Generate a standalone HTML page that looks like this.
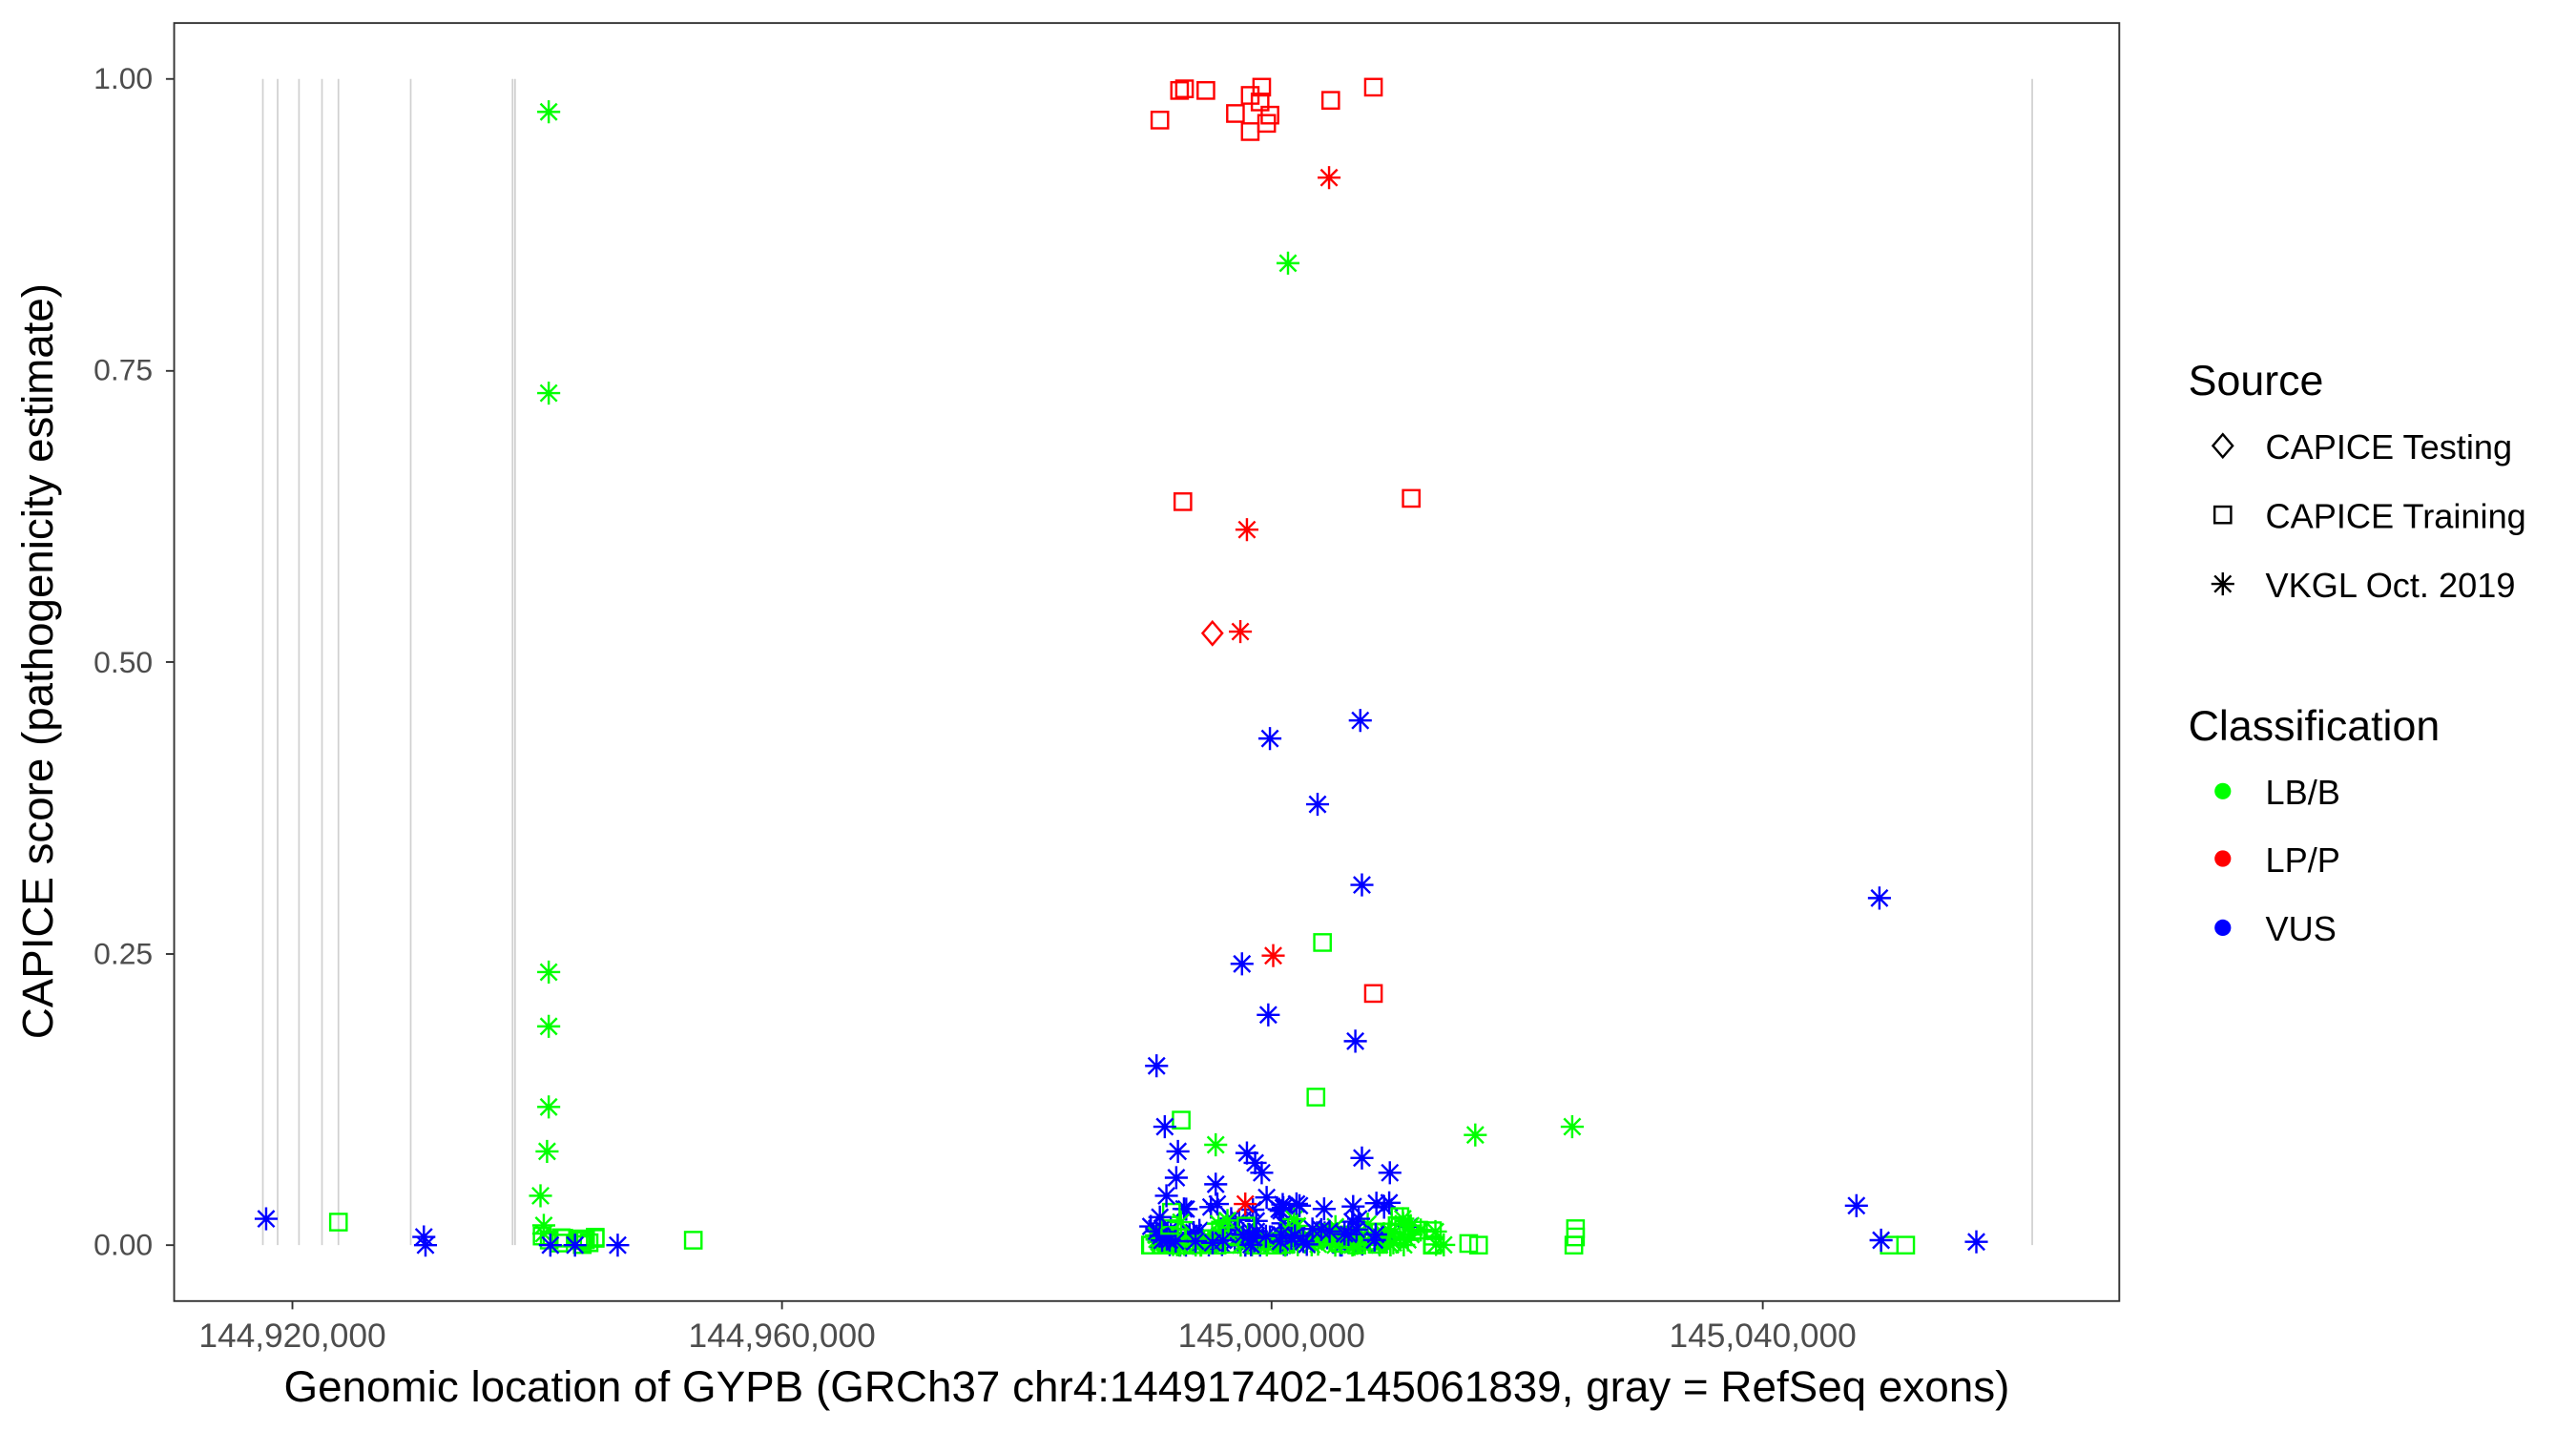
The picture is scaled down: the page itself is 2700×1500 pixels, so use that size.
<!DOCTYPE html>
<html><head><meta charset="utf-8"><style>
html,body{margin:0;padding:0;background:#fff}
svg{display:block}
text{font-family:"Liberation Sans",Arial,sans-serif}
</style></head><body>
<svg id="s" width="2700" height="1500" viewBox="0 0 1568 870" preserveAspectRatio="none" xmlns="http://www.w3.org/2000/svg">
<rect x="0" y="0" width="1568" height="870" fill="#fff"/>
<g stroke="#d0d0d0" stroke-width="1">
<line x1="160" y1="48" x2="160" y2="757"/><line x1="169" y1="48" x2="169" y2="757"/><line x1="182" y1="48" x2="182" y2="757"/><line x1="196" y1="48" x2="196" y2="757"/><line x1="206" y1="48" x2="206" y2="757"/><line x1="250" y1="48" x2="250" y2="757"/><line x1="312" y1="48" x2="312" y2="757"/><line x1="313.5" y1="48" x2="313.5" y2="757"/><line x1="1237" y1="48" x2="1237" y2="757"/>
</g>
<g id="pts" fill="none" stroke-width="1.4"></g>
<rect x="106" y="14" width="1184" height="777" fill="none" stroke="#333" stroke-width="1.1"/>
<g stroke="#333" stroke-width="1.1">
<line x1="101" y1="48" x2="106" y2="48"/><line x1="101" y1="225.5" x2="106" y2="225.5"/><line x1="101" y1="402.5" x2="106" y2="402.5"/><line x1="101" y1="580" x2="106" y2="580"/><line x1="101" y1="757" x2="106" y2="757"/>
<line x1="178" y1="791" x2="178" y2="796"/><line x1="476" y1="791" x2="476" y2="796"/><line x1="774" y1="791" x2="774" y2="796"/><line x1="1073" y1="791" x2="1073" y2="796"/>
</g>
<g font-size="18.5" fill="#4d4d4d" text-anchor="end">
<text x="93" y="54">1.00</text><text x="93" y="231">0.75</text><text x="93" y="409">0.50</text><text x="93" y="586">0.25</text><text x="93" y="763">0.00</text>
</g>
<g font-size="20.5" fill="#4d4d4d" text-anchor="middle">
<text x="178" y="819">144,920,000</text><text x="476" y="819">144,960,000</text><text x="774" y="819">145,000,000</text><text x="1073" y="819">145,040,000</text>
</g>
<text x="698" y="852" font-size="26.6" text-anchor="middle" fill="#000">Genomic location of GYPB (GRCh37 chr4:144917402-145061839, gray = RefSeq exons)</text>
<text transform="translate(32,402) rotate(-90)" font-size="26.5" text-anchor="middle" fill="#000">CAPICE score (pathogenicity estimate)</text>
<text x="1332" y="240" font-size="26">Source</text>
<text x="1379" y="279" font-size="21">CAPICE Testing</text>
<text x="1379" y="321" font-size="21">CAPICE Training</text>
<text x="1379" y="363" font-size="21">VKGL Oct. 2019</text>
<text x="1332" y="450" font-size="26">Classification</text>
<text x="1379" y="489" font-size="21">LB/B</text>
<text x="1379" y="530" font-size="21">LP/P</text>
<text x="1379" y="572" font-size="21">VUS</text>
<circle cx="1353" cy="481" r="5" fill="#00ff00"/>
<circle cx="1353" cy="522" r="5" fill="#ff0000"/>
<circle cx="1353" cy="564" r="5" fill="#0000ff"/>
<g id="leg" fill="none" stroke="#000" stroke-width="1.4"></g>
</svg>
<script>
var NS="http://www.w3.org/2000/svg";
var C={g:"#00ff00",r:"#ff0000",b:"#0000ff",k:"#000"};
function add(par,tag,at){var e=document.createElementNS(NS,tag);for(var k in at)e.setAttribute(k,at[k]);par.appendChild(e);}
function star(p,x,y,c){var d="M"+(x-7)+" "+y+"h14M"+x+" "+(y-7)+"v14M"+(x-5)+" "+(y-5)+"l10 10M"+(x-5)+" "+(y+5)+"l10 -10";add(p,"path",{d:d,stroke:c});}
function sq(p,x,y,c){add(p,"rect",{x:x-5,y:y-5,width:10,height:10,stroke:c});}
function dia(p,x,y,c){add(p,"path",{d:"M"+x+" "+(y-7)+"l6 7l-6 7l-6 -7z",stroke:c});}
var P=document.getElementById("pts"),L=document.getElementById("leg");
dia(L,1353,271,"#000");sq(L,1353,313,"#000");star(L,1353,355,"#000");
var seed=7;function rnd(){seed=(seed*16807)%2147483647;return seed/2147483647;}
for(var i=0;i<14;i++){sq(P,330+rnd()*35,757-rnd()*6,C.g);}
for(var i=0;i<70;i++){var x=700+rnd()*160*(rnd()<.6?0.55:1);var y=757-Math.pow(rnd(),2)*28;star(P,x,y,C.b);}
for(var i=0;i<110;i++){var x=700+rnd()*180;var y=757-Math.pow(rnd(),3)*18;(rnd()<.5?sq:star)(P,x,y,C.g);}
for(var i=0;i<30;i++){var x=700+rnd()*140;var y=757-rnd()*10;star(P,x,y,C.b);}
[[706,73],[718,55],[721,54],[734,55],[752,69],[761,80],[761,58],[768,53],[767,62],[773,70],[771,75],[810,61],[836,53],[720,305],[859,303],[836,604]].forEach(function(a){sq(P,a[0],a[1],C.r);});
[[206,743],[422,754],[719,681],[805,573],[801,667],[959,747],[959,752],[958,757],[894,756],[900,757],[1150,757],[1160,757],[713,737],[712,745]].forEach(function(a){sq(P,a[0],a[1],C.g);});
[[334,68],[334,239],[334,591],[334,624],[334,673],[333,700],[329,727],[331,745],[331,750],[784,160],[740,696],[898,690],[957,685]].forEach(function(a){star(P,a[0],a[1],C.g);});
[[162,741],[258,752],[259,757],[335,757],[350,757],[376,757],[773,449],[828,438],[802,489],[829,538],[756,586],[772,617],[825,633],[704,648],[709,685],[717,700],[716,716],[710,727],[740,720],[759,701],[764,707],[768,713],[829,704],[846,713],[1130,733],[1144,546],[1145,754],[1203,755],[791,733],[806,735],[827,741],[771,728],[741,732],[706,740]].forEach(function(a){star(P,a[0],a[1],C.b);});
[[809,108],[759,322],[755,384],[775,581],[758,732]].forEach(function(a){star(P,a[0],a[1],C.r);});
dia(P,738,385,C.r);
</script>
</body></html>
